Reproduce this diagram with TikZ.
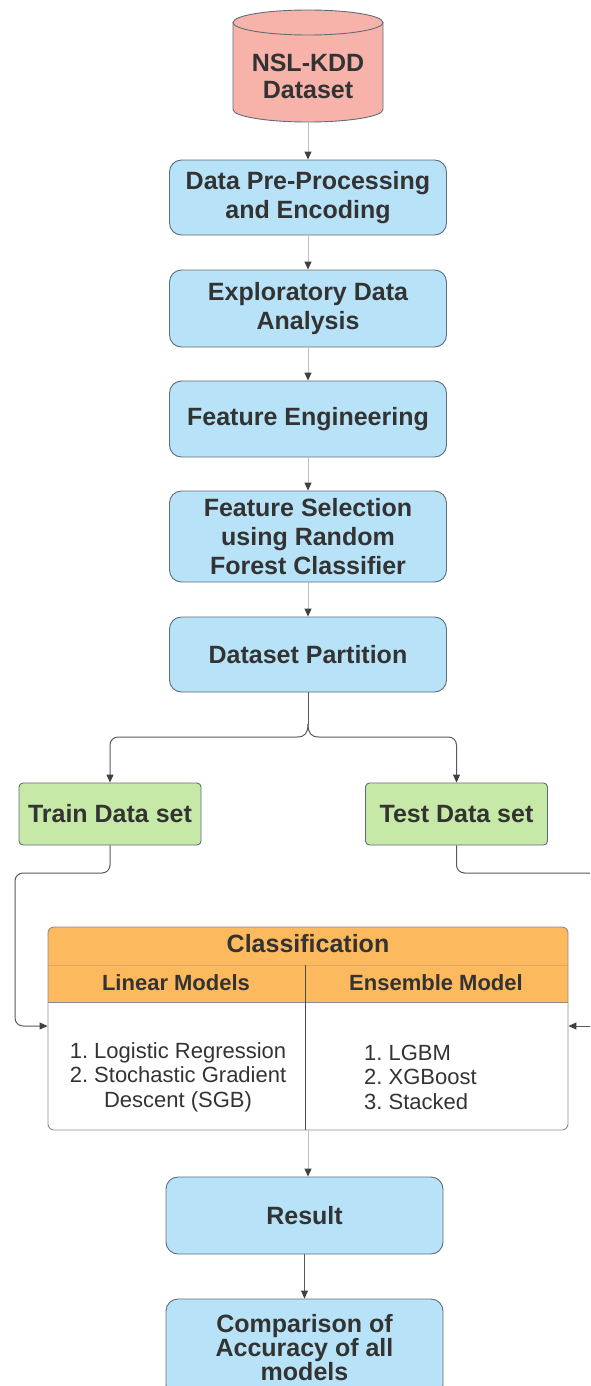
\documentclass[tikz,border=0pt]{standalone}
\usepackage{fontspec}
\setmainfont{Liberation Sans}
\usetikzlibrary{arrows.meta}
\frenchspacing
\definecolor{bluef}{HTML}{B7E2F7}
\definecolor{blued}{HTML}{5E6E78}
\definecolor{pinkf}{HTML}{F7B3AA}
\definecolor{greenf}{HTML}{C7E9A7}
\definecolor{orangef}{HTML}{FDB95E}
\definecolor{txt}{HTML}{333333}
\tikzset{
  x=1pt, y=1pt,
  bluebox/.style={draw=blued, line width=0.9pt, fill=bluef, rounded corners=12pt,
    minimum width=277pt, align=center, text=txt, inner sep=2pt,
    font=\fontsize{25}{29}\selectfont\bfseries},
  greenbox/.style={draw=blued, line width=0.9pt, fill=greenf, rounded corners=4pt,
    minimum width=182pt, minimum height=62pt, align=center, text=txt,
    font=\fontsize{25}{29}\selectfont\bfseries},
  arr/.style={-{Triangle[width=7pt,length=8pt,color=black!75]}},
  faint/.style={draw=black!25, line width=1pt},
  conn/.style={draw=black!65, line width=1pt},
  hdr/.style={text=txt, font=\fontsize{22}{26}\selectfont\bfseries},
  lst/.style={text=txt, font=\fontsize{22}{24.5}\selectfont},
}
\begin{document}
\begin{tikzpicture}
\useasboundingbox (0,0) rectangle (590,-1386);
\clip (0,0) rectangle (590,-1386);
% cylinder
\path[fill=pinkf] (233,-22.5) -- (233,-109.5) arc[start angle=180,end angle=360,x radius=75,y radius=12.5]
  -- (383,-22.5) arc[start angle=0,end angle=180,x radius=75,y radius=12.5] -- cycle;
\draw[draw=blued, line width=0.9pt] (233,-22.5) -- (233,-109.5) arc[start angle=180,end angle=360,x radius=75,y radius=12.5]
  -- (383,-22.5);
\draw[draw=blued, line width=0.9pt] (308,-22.5) ellipse[x radius=75, y radius=12.5];
\node[align=center, text=txt, font=\fontsize{25}{27}\selectfont\bfseries] (ds) at (308,-76) {NSL-KDD\\Dataset};
\coordinate (dsb) at (308,-122);

% main boxes
\node[bluebox, minimum height=75pt] (pre) at (308,-197.5) {Data Pre-Processing\\and Encoding};
\node[bluebox, minimum height=77pt] (eda) at (308,-308.5) {Exploratory Data\\Analysis};
\node[bluebox, minimum height=76pt] (fe) at (308,-419) {Feature Engineering};
\node[bluebox, minimum height=91pt] (fs) at (308,-536.5) {Feature Selection\\using Random\\Forest Classifier};
\node[bluebox, minimum height=75pt] (part) at (308,-654.5) {Dataset Partition};

\node[greenbox] (train) at (110,-814) {Train Data set};
\node[greenbox] (test) at (456.5,-814) {Test Data set};

% classification box
\fill[orangef] (48,-1002) [rounded corners=6pt] -- (48,-927) -- (568,-927) [sharp corners] -- (568,-1002) -- cycle;
\draw[orangef!85!black!90, line width=0.6pt] (48,-965) -- (568,-965);
\draw[black!45, line width=0.8pt] (48,-1002) -- (568,-1002);
\node[draw=black!45, line width=0.9pt, rounded corners=6pt, minimum width=520pt, minimum height=203pt, inner sep=0pt] (cls) at (308,-1028.5) {};
\draw[black!70, line width=0.9pt] (305,-965) -- (305,-1130);
\node[text=txt, font=\fontsize{25}{29}\selectfont\bfseries] (clt) at (308,-944) {Classification};
\node[hdr] (lm) at (176,-983) {Linear Models};
\node[hdr] (em) at (436,-983) {Ensemble Model};
\node[lst, align=center] (ll) at (178,-1077) {1. Logistic Regression\\2. Stochastic Gradient\\Descent (SGB)};
\node[lst, align=left, anchor=west, inner sep=0pt] (rl) at (364,-1077) {1. LGBM\\2. XGBoost\\3. Stacked};

\node[bluebox, minimum height=77pt] (res) at (304.5,-1215.5) {Result};
\node[bluebox, minimum height=98pt, font=\fontsize{25}{24}\selectfont\bfseries] (comp) at (304.5,-1348) {Comparison of\\Accuracy of all\\models};

% connectors
\draw[faint, arr] (dsb) -- (dsb |- pre.north);
\draw[faint, arr] (pre) -- (eda);
\draw[faint, arr] (eda) -- (fe);
\draw[faint, arr] (fe) -- (fs);
\draw[faint, arr] (fs) -- (part);

\coordinate (split) at (308,-724);
\coordinate (hl) at (0,-737);
\draw[conn] (part.south) -- (split);
\draw[conn, arr] (split) .. controls (308,-733) and (305,-737) .. (297,-737) [rounded corners=8pt] -- (train.north |- hl) -- (train.north);
\draw[conn, arr] (split) .. controls (308,-733) and (311,-737) .. (319,-737) [rounded corners=8pt] -- (test.north |- hl) -- (test.north);

\coordinate (tl1) at (15,-873);
\coordinate (tl2) at (15,-1026);
\draw[conn, arr, rounded corners=8pt] (train.south) |- (tl1) -- (tl2) -- (cls.west |- tl2);
\coordinate (rt1) at (592,-873);
\coordinate (rt2) at (592,-1026);
\draw[conn, rounded corners=8pt] (test.south) |- (rt1);
\draw[conn, arr] (rt2) -- (cls.east |- rt2);

\draw[faint, arr] (cls.south) -- (cls.south |- res.north);
\draw[conn, arr] (res) -- (comp);
\end{tikzpicture}
\end{document}
